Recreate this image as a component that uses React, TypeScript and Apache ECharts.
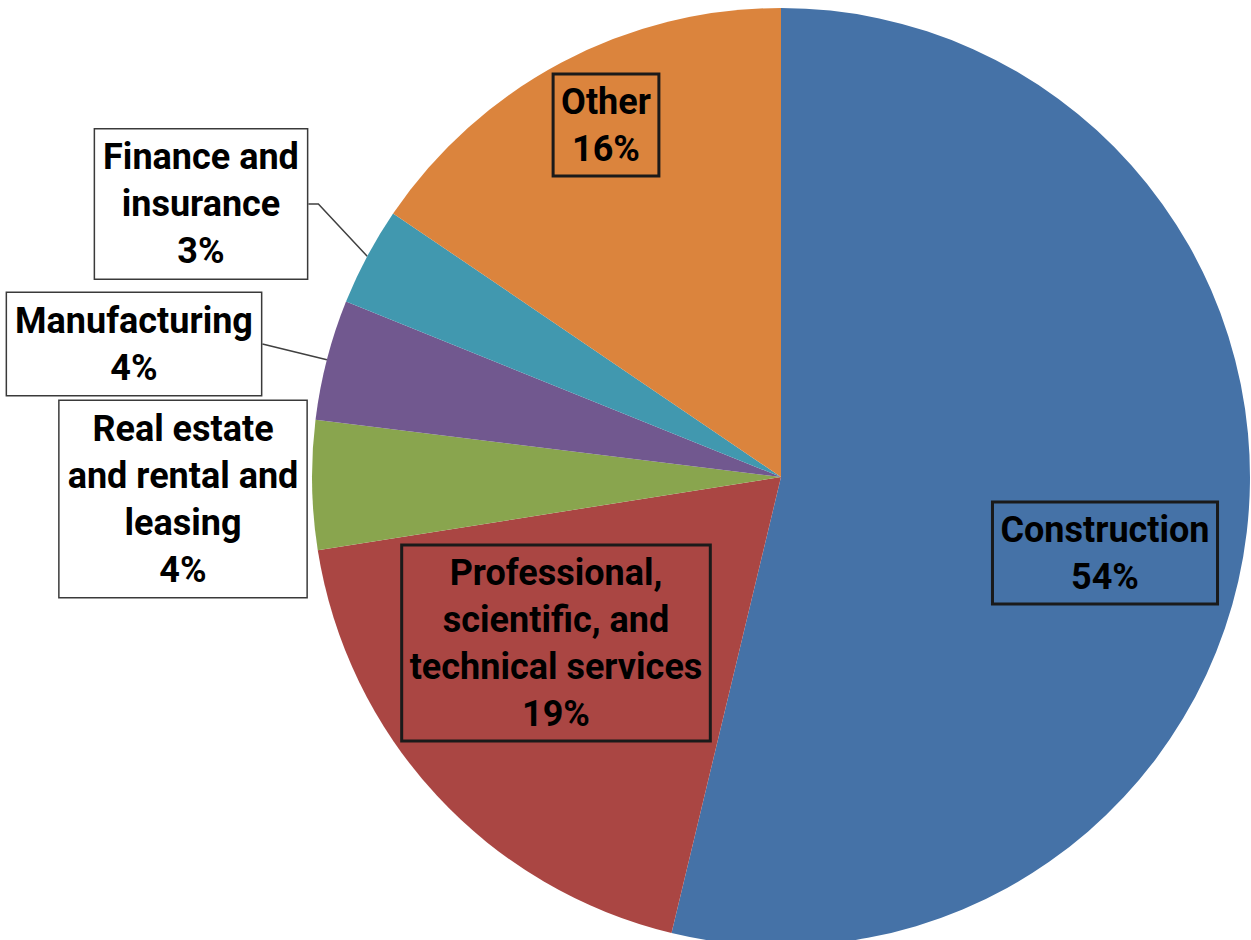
import React, { useEffect, useRef } from 'react';
import * as echarts from 'echarts';

const categories = [
  'Construction',
  'Professional, scientific, and technical services',
  'Real estate and rental and leasing',
  'Manufacturing',
  'Finance and insurance',
  'Other',
];
const labelText = [
  'Construction',
  'Professional,\nscientific, and\ntechnical services',
  'Real estate\nand rental and\nleasing',
  'Manufacturing',
  'Finance and\ninsurance',
  'Other',
];
const shares = [53.75, 18.75, 4.45, 4.15, 3.4, 15.5];
const colors = ['#4572A7', '#AA4643', '#89A54E', '#71588F', '#4198AF', '#DB843D'];
const outsideLabel = [false, false, true, true, true, false];
const leaderLine = [false, false, false, true, true, false];
const labelCenters = [
  [1105, 553],
  [556, 643],
  [183, 499],
  [134, 344],
  [201, 204],
  [606, 125],
];

const FONT = "Roboto, 'Liberation Sans', sans-serif";

export default function App() {
  const ref = useRef<HTMLDivElement>(null);
  useEffect(() => {
    if (!ref.current) return;
    const chart = echarts.init(ref.current, undefined, { renderer: 'svg' });
    const data = categories.map((name, i) => ({
      name,
      value: shares[i],
      itemStyle: { color: colors[i] },
      label: outsideLabel[i]
        ? {
            position: 'outside',
            backgroundColor: '#ffffff',
            borderColor: '#3a3a3a',
            borderWidth: 1.5,
          }
        : {
            position: 'inside',
            backgroundColor: 'transparent',
            borderColor: '#1a1a1a',
            borderWidth: 1.5,
          },
      labelLine: {
        show: leaderLine[i],
        length: 10,
        length2: i === 4 ? 10 : 0,
        lineStyle: { color: '#404040', width: 1.5 },
      },
    }));
    chart.setOption({
      animation: false,
      backgroundColor: '#ffffff',
      series: [
        {
          type: 'pie',
          center: [781, 477],
          radius: 469,
          startAngle: 90,
          clockwise: true,
          percentPrecision: 0,
          avoidLabelOverlap: false,
          itemStyle: { borderWidth: 0 },
          label: {
            show: true,
            formatter: (p: any) => `${labelText[p.dataIndex]}\n${p.percent}%`,
            fontFamily: FONT,
            fontWeight: 'bold',
            fontSize: 36,
            lineHeight: 47,
            color: '#000000',
            padding: [4, 8],
            align: 'center',
          },
          labelLine: { show: false },
          labelLayout: (params: any) => ({
            x: labelCenters[params.dataIndex][0],
            y: labelCenters[params.dataIndex][1],
            align: 'center',
            verticalAlign: 'middle',
          }),
          emphasis: { disabled: true },
          data,
        },
      ],
    });
    return () => chart.dispose();
  }, []);
  return (
    <div
      ref={ref}
      style={{ position: 'fixed', left: 0, top: 0, width: 1251, height: 940 }}
    />
  );
}
